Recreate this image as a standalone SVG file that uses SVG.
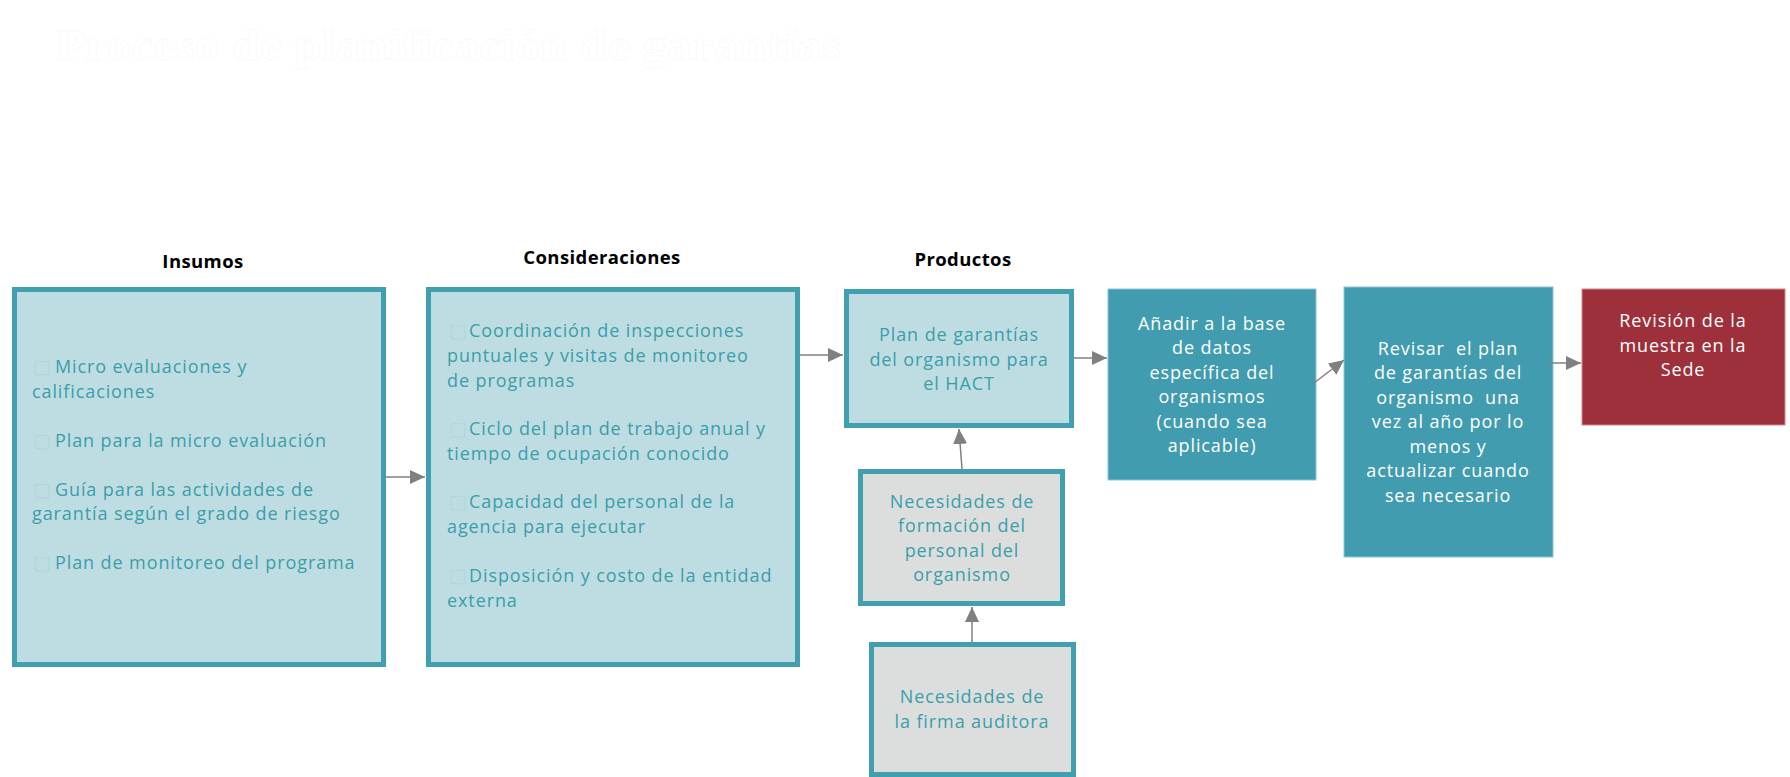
<svg xmlns="http://www.w3.org/2000/svg" width="1790" height="777" viewBox="0 0 1790 777">
<style>
.lb{fill:#BEDDE3;stroke:#40A0B0;stroke-width:5}
.gr{fill:#DCDEDE;stroke:#40A0B0;stroke-width:5}
.tl{fill:#409CAE;stroke:#8CC6D1;stroke-width:1}
.rd{fill:#9E303B;stroke:#D08890;stroke-width:1}
text{font-family:"Open Sans","Liberation Sans",sans-serif;font-size:18px;letter-spacing:0.9px}
.t{fill:#3B9EAA}
.w{fill:#FFFFFF}
.c{text-anchor:middle}
.h{font-weight:bold;fill:#000;font-size:18.5px;letter-spacing:0.4px;text-anchor:middle}
.bx{fill:#B3D5DB;font-family:"DejaVu Sans",sans-serif;font-size:19px;letter-spacing:0}
.ln{stroke:#808080;stroke-width:1.5;fill:none}
.pre{white-space:pre}
</style>
<defs>
<marker id="ah" markerUnits="userSpaceOnUse" markerWidth="15" markerHeight="14" refX="15" refY="7" orient="auto">
<path d="M0,0 L15,7 L0,14 z" fill="#808080"/>
</marker>
</defs>
<text x="55" y="60" textLength="786" lengthAdjust="spacingAndGlyphs" style="font-family:'Liberation Serif',serif;font-weight:bold;font-size:44px;letter-spacing:0;fill:#FFFFFF;stroke:#F7F7F7;stroke-width:0.5">Proceso de planificación de garantías</text>
<g id="headers">
<text class="h" x="203" y="268">Insumos</text>
<text class="h" x="602" y="264">Consideraciones</text>
<text class="h" x="963" y="266">Productos</text>
</g>
<g id="insumos">
<rect class="lb" x="14.5" y="289.5" width="369" height="375"/>
<text class="t" x="33" y="373"><tspan class="bx">□</tspan><tspan x="55">Micro evaluaciones y</tspan></text>
<text class="t" x="32" y="398">calificaciones</text>
<text class="t" x="33" y="447"><tspan class="bx">□</tspan><tspan x="55">Plan para la micro evaluación</tspan></text>
<text class="t" x="33" y="496"><tspan class="bx">□</tspan><tspan x="55">Guía para las actividades de</tspan></text>
<text class="t" x="32" y="520">garantía según el grado de riesgo</text>
<text class="t" x="33" y="569"><tspan class="bx">□</tspan><tspan x="55">Plan de monitoreo del programa</tspan></text>
</g>
<g id="consideraciones">
<rect class="lb" x="428.5" y="289.5" width="369" height="375"/>
<text class="t" x="449" y="337"><tspan class="bx">□</tspan><tspan x="469">Coordinación de inspecciones</tspan></text>
<text class="t" x="447" y="362">puntuales y visitas de monitoreo</text>
<text class="t" x="447" y="387">de programas</text>
<text class="t" x="449" y="435"><tspan class="bx">□</tspan><tspan x="469">Ciclo del plan de trabajo anual y</tspan></text>
<text class="t" x="447" y="460">tiempo de ocupación conocido</text>
<text class="t" x="449" y="508"><tspan class="bx">□</tspan><tspan x="469">Capacidad del personal de la</tspan></text>
<text class="t" x="447" y="533">agencia para ejecutar</text>
<text class="t" x="449" y="582"><tspan class="bx">□</tspan><tspan x="469">Disposición y costo de la entidad</tspan></text>
<text class="t" x="447" y="607">externa</text>
</g>
<g id="plan">
<rect class="lb" x="846.5" y="291.5" width="225" height="134"/>
<text class="t c" x="959" y="341">Plan de garantías</text>
<text class="t c" x="959" y="366">del organismo para</text>
<text class="t c" x="959" y="390">el HACT</text>
</g>
<g id="formacion">
<rect class="gr" x="860.5" y="471.5" width="202" height="132"/>
<text class="t c" x="962" y="508">Necesidades de</text>
<text class="t c" x="962" y="532">formación del</text>
<text class="t c" x="962" y="557">personal del</text>
<text class="t c" x="962" y="581">organismo</text>
</g>
<g id="firma">
<rect class="gr" x="871.5" y="644.5" width="202" height="130"/>
<text class="t c" x="972" y="703">Necesidades de</text>
<text class="t c" x="972" y="728">la firma auditora</text>
</g>
<g id="anadir">
<rect class="tl" x="1108" y="289" width="208" height="191"/>
<text class="w c" x="1212" y="330">Añadir a la base</text>
<text class="w c" x="1212" y="354">de datos</text>
<text class="w c" x="1212" y="379">específica del</text>
<text class="w c" x="1212" y="403">organismos</text>
<text class="w c" x="1212" y="428">(cuando sea</text>
<text class="w c" x="1212" y="452">aplicable)</text>
</g>
<g id="revisar">
<rect class="tl" x="1344" y="287" width="209" height="270"/>
<text class="w c pre" x="1448" y="355">Revisar  el plan</text>
<text class="w c" x="1448" y="379">de garantías del</text>
<text class="w c pre" x="1448" y="404">organismo  una</text>
<text class="w c" x="1448" y="428">vez al año por lo</text>
<text class="w c" x="1448" y="453">menos y</text>
<text class="w c" x="1448" y="477">actualizar cuando</text>
<text class="w c" x="1448" y="502">sea necesario</text>
</g>
<g id="revision">
<rect class="rd" x="1582" y="289" width="203" height="136"/>
<text class="w c" x="1683" y="327">Revisión de la</text>
<text class="w c" x="1683" y="352">muestra en la</text>
<text class="w c" x="1683" y="376">Sede</text>
</g>
<g id="connectors">
<path class="ln" d="M386 477 L425 477" marker-end="url(#ah)"/>
<path class="ln" d="M800 355 L843 355" marker-end="url(#ah)"/>
<path class="ln" d="M1074 358 L1107 358" marker-end="url(#ah)"/>
<path class="ln" d="M1314 383 L1344 360" marker-end="url(#ah)"/>
<path class="ln" d="M1548 363 L1581 363" marker-end="url(#ah)"/>
<path class="ln" d="M962 469 L959 429" marker-end="url(#ah)"/>
<path class="ln" d="M972 642 L972 607" marker-end="url(#ah)"/>
</g>
</svg>
